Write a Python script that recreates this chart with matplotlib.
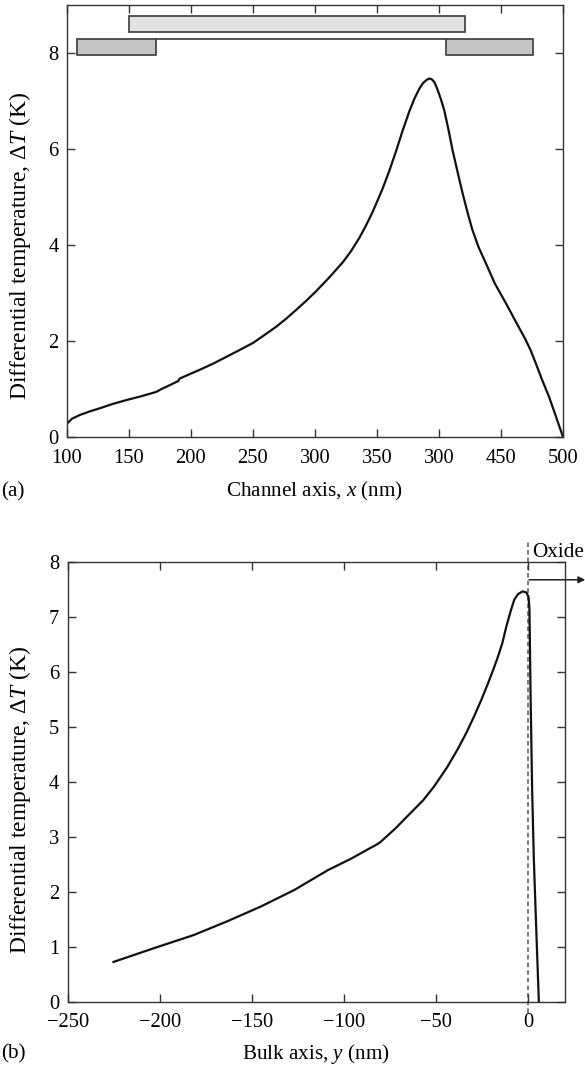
import matplotlib
matplotlib.use("Agg")
import matplotlib.pyplot as plt
from matplotlib.patches import Rectangle

plt.rcParams['font.family'] = ['Liberation Serif', 'DejaVu Serif']
plt.rcParams['mathtext.fontset'] = 'custom'
plt.rcParams['mathtext.rm'] = 'Liberation Serif'
plt.rcParams['mathtext.it'] = 'Liberation Serif:italic'
plt.rcParams['font.size'] = 15

# ---- Panel (a) data: channel axis ----
x_a = [100, 104, 110.5, 118, 126.6, 137, 148, 160, 172, 177, 182.9, 188.3, 189.5, 191,
       199, 207, 218, 228.5, 239, 250, 259, 268.8, 277, 284.9, 293, 301, 311.7,
       322.4, 329, 335.8, 341, 346.5, 350.5, 354.6, 360, 365.3, 370.5, 376, 380,
       384, 387, 390, 392.2, 394.3, 396.3, 398.5, 401.5, 404.2, 407.5, 410.9, 415,
       419, 423, 427, 432, 437.8, 445, 453.9, 462, 470, 474, 478, 483, 488.7, 494, 500]
dT_a = [0.28, 0.38, 0.46, 0.53, 0.60, 0.69, 0.77, 0.85, 0.94, 1.01, 1.08, 1.15, 1.16, 1.22,
        1.31, 1.40, 1.53, 1.67, 1.81, 1.96, 2.12, 2.30, 2.47, 2.65, 2.84, 3.04, 3.33,
        3.64, 3.87, 4.15, 4.40, 4.69, 4.93, 5.18, 5.55, 5.95, 6.37, 6.78, 7.04,
        7.25, 7.37, 7.44, 7.47, 7.45, 7.39, 7.26, 7.04, 6.81, 6.42, 5.98, 5.52,
        5.08, 4.68, 4.31, 3.95, 3.62, 3.20, 2.79, 2.40, 2.02, 1.80, 1.54, 1.20, 0.84, 0.45, 0.0]
xticks_a = [100, 150, 200, 250, 300, 350, 400, 450, 500]
xticklabels_a = ['100', '150', '200', '250', '300', '350', '300', '450', '500']
yticks_a = [0, 2, 4, 6, 8]

# device sketch (data coords): gate, source, drain
gate_x = [150, 421]
gate_y = [8.44, 8.78]
source_x = [108, 171.5]
drain_x = [406, 476]
sd_y = [7.95, 8.29]

# ---- Panel (b) data: bulk axis ----
y_b = [-225.1, -212, -199.6, -181.5, -163.3, -145, -126.9, -108.7, -96, -88, -82,
       -80.2, -72, -63.8, -57, -51.1, -44, -38.4, -33.5, -29.3, -25.5, -22, -19,
       -16.5, -14, -12, -9.5, -7.5, -5.5, -3.0, -1.0, 0.2, 0.7, 1.3, 2.2, 3.1, 4.2, 5.8]
dT_b = [0.72, 0.87, 1.01, 1.21, 1.46, 1.73, 2.03, 2.39, 2.60, 2.75, 2.86,
        2.90, 3.15, 3.43, 3.66, 3.91, 4.26, 4.58, 4.89, 5.19, 5.48, 5.77, 6.03,
        6.26, 6.52, 6.80, 7.10, 7.31, 7.41, 7.46, 7.44, 7.36, 7.15, 5.61, 3.79, 2.58, 1.5, 0.0]
xticks_b = [-250, -200, -150, -100, -50, 0]
yticks_b = [0, 1, 2, 3, 4, 5, 6, 7, 8]

fig = plt.figure(figsize=(5.85, 10.69), dpi=100)
spine_c = '#333333'
line_c = '#111111'
tick_fs = 14.8
label_fs = 15.2
ylabel_fs = 17

def style(ax):
    for s in ax.spines.values():
        s.set_color(spine_c)
        s.set_linewidth(1.0)
    ax.tick_params(direction='in', top=True, right=True, length=6, width=1.0,
                   color=spine_c, labelsize=tick_fs)
    ax.tick_params(axis='x', pad=8.5)
    ax.tick_params(axis='y', pad=6)

# Panel (a)
ax1 = fig.add_axes([0.1145, 0.5912, 0.8479, 0.4041])
ax1.plot(x_a, dT_a, color=line_c, lw=1.6, solid_joinstyle='round')
ax1.set_xlim(100, 500)
ax1.set_ylim(0, 9)
ax1.set_xticks(xticks_a)
ax1.set_xticklabels(xticklabels_a)
ax1.set_yticks(yticks_a)
style(ax1)
ax1.set_xlabel('Channel axis, $x$ (nm)', fontsize=label_fs, va='center')
ax1.xaxis.set_label_coords(0.5, -0.127)
ax1.set_ylabel('Differential temperature, $\\Delta T$ (K)', fontsize=ylabel_fs, va='center')
ax1.yaxis.set_label_coords(-0.0948, 0.442)
ax1.add_patch(Rectangle((gate_x[0], gate_y[0]), gate_x[1] - gate_x[0], gate_y[1] - gate_y[0],
                        facecolor='#e0e1e3', edgecolor='#3a3a3a', lw=1.2, zorder=3))
ax1.add_patch(Rectangle((source_x[0], sd_y[0]), source_x[1] - source_x[0], sd_y[1] - sd_y[0],
                        facecolor='#c5c6c8', edgecolor='#3a3a3a', lw=1.2, zorder=3))
ax1.add_patch(Rectangle((drain_x[0], sd_y[0]), drain_x[1] - drain_x[0], sd_y[1] - sd_y[0],
                        facecolor='#c5c6c8', edgecolor='#3a3a3a', lw=1.2, zorder=3))
ax1.plot([source_x[1], drain_x[0]], [sd_y[1], sd_y[1]], color='#3a3a3a', lw=1.2, zorder=3)
fig.text(0.002, 1 - 492 / 1069, '(a)', fontsize=label_fs, ha='left', va='center')

# Panel (b)
ax2 = fig.add_axes([0.1156, 0.0631, 0.8502, 0.4115])
ax2.plot(y_b, dT_b, color=line_c, lw=1.6, solid_joinstyle='round')
ax2.set_xlim(-250, 20)
ax2.set_ylim(0, 8)
ax2.set_xticks(xticks_b)
ax2.set_yticks(yticks_b)
style(ax2)
ax2.set_xlabel('Bulk axis, $y$ (nm)', fontsize=label_fs, va='center')
ax2.xaxis.set_label_coords(0.5, -0.119)
ax2.set_ylabel('Differential temperature, $\\Delta T$ (K)', fontsize=ylabel_fs, va='center')
ax2.yaxis.set_label_coords(-0.096, 0.458)
ax2.plot([0, 0], [-0.2, 8.4], color='#555555', lw=1.1, ls=(0, (3, 2)), clip_on=False, zorder=1)
ax2.annotate('', xy=(31, 7.67), xytext=(0.5, 7.67), annotation_clip=False,
             arrowprops=dict(arrowstyle='-|>', color='#222222', lw=1.1,
                             mutation_scale=10, shrinkA=0, shrinkB=0))
ax2.text(2, 8.16, 'Oxide', fontsize=label_fs, ha='left', va='center', clip_on=False)
fig.text(0.002, 1 - 1054 / 1069, '(b)', fontsize=label_fs, ha='left', va='center')

fig.savefig('out.png', dpi=100)
